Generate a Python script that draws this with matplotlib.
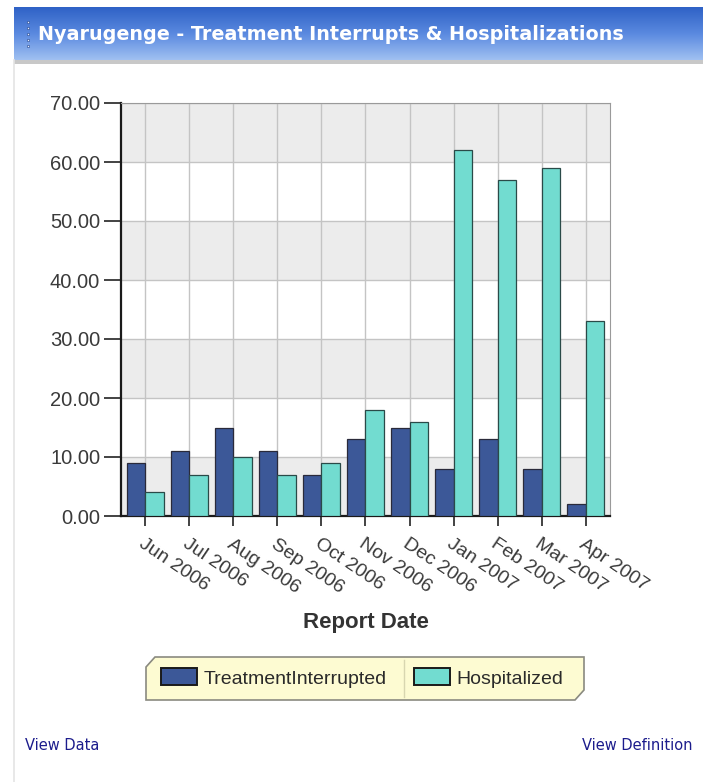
import numpy as np
import matplotlib

matplotlib.use("Agg")
import matplotlib.pyplot as plt
from matplotlib.patches import Rectangle, Polygon
from matplotlib.lines import Line2D

# values
months = ["Jun 2006", "Jul 2006", "Aug 2006", "Sep 2006", "Oct 2006", "Nov 2006",
          "Dec 2006", "Jan 2007", "Feb 2007", "Mar 2007", "Apr 2007"]
treatment_interrupted = [9, 11, 15, 11, 7, 13, 15, 8, 13, 8, 2]
hospitalized = [4, 7, 10, 7, 9, 18, 16, 62, 57, 59, 33]
series_names = ["TreatmentInterrupted", "Hospitalized"]
y_ticks = [0, 10, 20, 30, 40, 50, 60, 70]

DARK = "#3c5898"
LIGHT = "#72dcd0"
FONT = "Liberation Sans"

fig = plt.figure(figsize=(7.03, 7.82), dpi=100)
W, H = 703, 782


def fx(px):
    return px / W


def fy(py):
    return 1 - py / H


# panel frame: light border on the left, header bar with gradient
fig.add_artist(Line2D([fx(14), fx(14)], [fy(60), 0], color="#e4e4e4", lw=1.2))
fig.add_artist(Rectangle((fx(14), fy(64)), 1, 4 / H, color="#c8c8c8", lw=0))
hdr = fig.add_axes([fx(14), fy(61), 1 - fx(14), 54 / H])
grad = np.linspace(0, 1, 100).reshape(-1, 1)
cmap = matplotlib.colors.LinearSegmentedColormap.from_list("hdr", ["#2f62c6", "#5b8ae0", "#a2c2f2"])
hdr.imshow(grad, aspect="auto", cmap=cmap, extent=[0, 1, 0, 1], origin="upper")
hdr.set_axis_off()
for k in range(5):
    hdr.plot(0.02, 0.72 - k * 0.11, marker="s", ms=2, color="#e8eefc", mec="#1b3f8a", mew=0.4)
hdr.text(0.035, 0.5, "Nyarugenge - Treatment Interrupts & Hospitalizations",
         color="white", fontsize=13.8, fontweight="bold", va="center", ha="left",
         family="DejaVu Sans")

# main chart
ax = fig.add_axes([fx(121), fy(516), fx(610) - fx(121), (516 - 103) / H])
x = np.arange(len(months))
w = 0.42
ax.bar(x - w / 2, treatment_interrupted, w, color=DARK, edgecolor="#2a2a3a", lw=0.9, zorder=3)
ax.bar(x + w / 2, hospitalized, w, color=LIGHT, edgecolor="#2a4a48", lw=0.9, zorder=3)

ax.set_ylim(0, 70)
ax.set_xlim(-0.55, len(months) - 0.45)
for i, lo in enumerate(y_ticks[:-1]):
    if i % 2 == 0:
        ax.axhspan(lo, y_ticks[i + 1], color="#ececec", lw=0, zorder=0)
ax.set_yticks(y_ticks)
ax.set_yticklabels([f"{v:.2f}" for v in y_ticks], family=FONT, fontsize=14.5, color="#3a3a3a")
ax.set_xticks(x)
ax.set_xticklabels(months, rotation=-34, ha="left", rotation_mode="anchor",
                   family=FONT, fontsize=14, color="#3a3a3a")
ax.grid(True, axis="both", color="#c4c4c4", lw=1, zorder=1)
ax.tick_params(axis="y", length=12, width=1.2, color="#222222", direction="out", pad=3)
ax.tick_params(axis="x", length=7, width=1.2, color="#222222", direction="out", pad=7)
for s in ["top", "right"]:
    ax.spines[s].set_color("#9a9a9a")
for s in ["left", "bottom"]:
    ax.spines[s].set_color("#1a1a1a")
    ax.spines[s].set_linewidth(1.6)
ax.set_xlabel("Report Date", family=FONT, fontsize=16, fontweight="bold",
              color="#333333", labelpad=11)

# legend box with clipped corners
x0, x1, y0, y1 = fx(146), fx(584), fy(700), fy(657)
shape = Polygon([(x0, y0), (x0, y1 - 10 / H), (x0 + 9 / W, y1), (x1, y1),
                 (x1, y0 + 10 / H), (x1 - 9 / W, y0)],
                closed=True, facecolor="#fdfbd2", edgecolor="#8a8a80", lw=1.2)
fig.add_artist(shape)
fig.add_artist(Line2D([fx(404), fx(404)], [y0 + 3 / H, y1 - 3 / H], color="#d8d6b0", lw=1))
handles = [Rectangle((0, 0), 1, 1, facecolor=DARK, edgecolor="#1a1a1a", lw=1.4),
           Rectangle((0, 0), 1, 1, facecolor=LIGHT, edgecolor="#1a1a1a", lw=1.4)]
leg = fig.legend(handles, series_names, loc="center", bbox_to_anchor=(fx(362), fy(678)),
                 ncol=2, frameon=False, prop={"family": FONT, "size": 14},
                 handlelength=1.85, handleheight=0.95, columnspacing=1.4, handletextpad=0.35,
                 labelcolor="#2a2a2a")

# links at the bottom
fig.text(fx(25), fy(746), "View Data", color="#1c1c8c", fontsize=10.5, va="center",
         ha="left", family="DejaVu Sans")
fig.text(fx(692), fy(746), "View Definition", color="#1c1c8c", fontsize=10.5, va="center",
         ha="right", family="DejaVu Sans")

fig.savefig("out.png", dpi=100)
